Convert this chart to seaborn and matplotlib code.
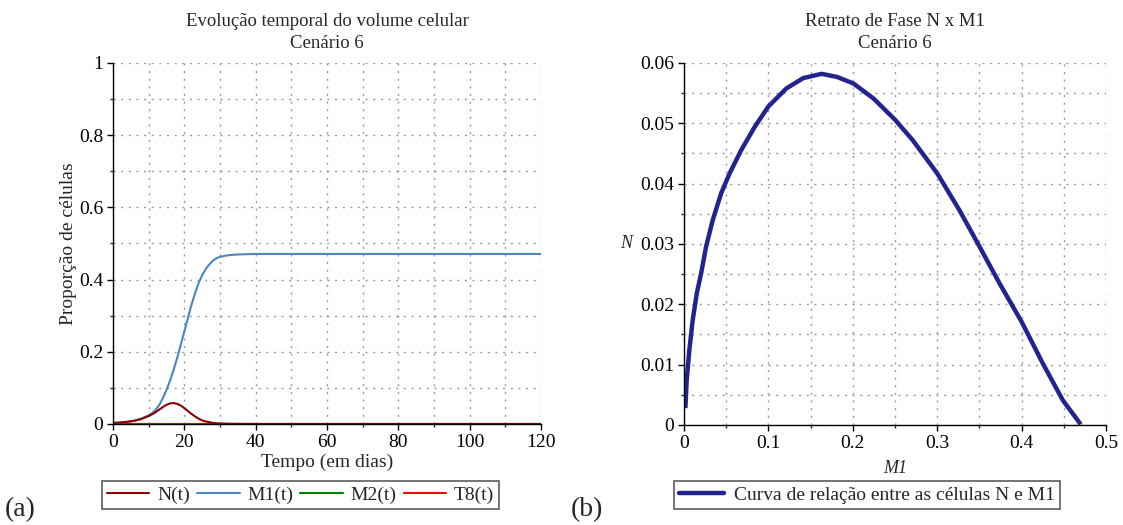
import numpy as np
import pandas as pd
import matplotlib
matplotlib.use("Agg")
import matplotlib.pyplot as plt
from matplotlib.ticker import MultipleLocator, FuncFormatter
from matplotlib.lines import Line2D
import seaborn as sns

# ---------------- data ----------------
t_days = [0, 2, 4, 6, 8, 10, 11, 12, 13, 14, 15, 16, 17, 18, 19, 20, 21, 22, 23,
          24, 25, 26, 27, 28, 29, 30, 32, 34, 36, 40, 50, 60, 70, 80, 90, 100, 110, 120]
N_t = [0.003, 0.004, 0.006, 0.009, 0.014, 0.022, 0.027, 0.033, 0.040, 0.047, 0.053,
       0.057, 0.058, 0.056, 0.051, 0.044, 0.036, 0.028, 0.021, 0.015, 0.010, 0.007,
       0.005, 0.003, 0.002, 0.0015, 0.0008, 0.0004, 0.0002, 0.0, 0.0, 0.0, 0.0, 0.0,
       0.0, 0.0, 0.0, 0.0]
M1_t = [0.003, 0.004, 0.006, 0.009, 0.015, 0.024, 0.030, 0.040, 0.053, 0.072, 0.094,
        0.120, 0.150, 0.183, 0.219, 0.256, 0.293, 0.330, 0.362, 0.390, 0.412, 0.429,
        0.442, 0.452, 0.459, 0.463, 0.467, 0.469, 0.470, 0.471, 0.471, 0.471, 0.471,
        0.471, 0.471, 0.471, 0.471, 0.471]
M2_t = [0.0] * len(t_days)
T8_t = [0.0] * len(t_days)

# phase portrait N x M1
phase_M1 = [0.0016, 0.0032, 0.0063, 0.0103, 0.0151, 0.0202, 0.0262, 0.0341, 0.0440,
            0.0540, 0.0679, 0.0837, 0.1000, 0.1214, 0.1413, 0.1630, 0.1810, 0.2008,
            0.2246, 0.2500, 0.2710, 0.3000, 0.3263, 0.3500, 0.3737, 0.4000, 0.4251,
            0.4488, 0.4700]
phase_N = [0.0028, 0.0075, 0.0124, 0.0174, 0.0218, 0.0251, 0.0296, 0.0340, 0.0384,
           0.0417, 0.0456, 0.0494, 0.0528, 0.0558, 0.0575, 0.0582, 0.0577, 0.0566,
           0.0541, 0.0506, 0.0472, 0.0417, 0.0356, 0.0296, 0.0235, 0.0171, 0.0102,
           0.0041, 0.0001]

series_names = ["N(t)", "M1(t)", "M2(t)", "T8(t)"]
series_colors = {"N(t)": "#8B0000", "M1(t)": "#4A86C1", "M2(t)": "#008000", "T8(t)": "#FF0000"}
phase_label = "Curva de relação entre as células N e M1"
phase_color = "#232390"

# ---------------- style ----------------
sns.set_theme(style="white")
plt.rcParams["font.family"] = ["Liberation Serif", "DejaVu Serif"]
plt.rcParams["axes.edgecolor"] = "black"
plt.rcParams["axes.linewidth"] = 1.0

fig = plt.figure(figsize=(11.23, 5.25), dpi=100)
axL = fig.add_axes([0.1006, 0.1924, 0.3811, 0.6876])
axR = fig.add_axes([0.6091, 0.1905, 0.3758, 0.6895])

df = pd.DataFrame({"t": t_days * 4,
                   "v": N_t + M1_t + M2_t + T8_t,
                   "serie": sum([[s] * len(t_days) for s in series_names], [])})

# draw order: M2, T8 below, then M1, then N on top
for s in ["M2(t)", "T8(t)", "M1(t)", "N(t)"]:
    sns.lineplot(data=df[df["serie"] == s], x="t", y="v", color=series_colors[s],
                 linewidth=1.5, estimator=None, ax=axL, legend=False)

dfp = pd.DataFrame({"M1": phase_M1, "N": phase_N})
sns.lineplot(data=dfp, x="M1", y="N", color=phase_color, linewidth=3.2,
             estimator=None, sort=False, ax=axR, legend=False)
for ln in axR.get_lines():
    ln.set_solid_joinstyle("round")
    ln.set_solid_capstyle("butt")


def fmt(v, pos):
    return "%g" % round(v, 6)


def style_axes(ax, xmaj, xmin, ymaj, ymin, xlim, ylim):
    ax.set_xlim(*xlim)
    ax.set_ylim(*ylim)
    ax.xaxis.set_major_locator(MultipleLocator(xmaj))
    ax.xaxis.set_minor_locator(MultipleLocator(xmin))
    ax.yaxis.set_major_locator(MultipleLocator(ymaj))
    ax.yaxis.set_minor_locator(MultipleLocator(ymin))
    ax.xaxis.set_major_formatter(FuncFormatter(fmt))
    ax.yaxis.set_major_formatter(FuncFormatter(fmt))
    ax.grid(True, which="both", color="#9a9a9a", linestyle=(0, (1.5, 4)), linewidth=1.0)
    ax.set_axisbelow(True)
    for sp in ["top", "right"]:
        ax.spines[sp].set_visible(False)
    ax.tick_params(which="major", direction="out", length=4, width=1, labelsize=14,
                   colors="black", bottom=True, left=True, pad=3)
    ax.tick_params(which="minor", direction="out", length=2, width=1, bottom=True, left=True)


style_axes(axL, 20, 10, 0.2, 0.1, (0, 120), (0, 1))
style_axes(axR, 0.1, 0.05, 0.01, 0.005, (0, 0.5), (0, 0.06))

axL.set_title("Evolução temporal do volume celular\nCenário 6", fontsize=13.5, pad=11,
              linespacing=1.4)
axR.set_title("Retrato de Fase N x M1\nCenário 6", fontsize=13.5, pad=11, linespacing=1.4)

axL.set_xlabel("Tempo (em dias)", fontsize=14, labelpad=2)
axL.set_ylabel("Proporção de células", fontsize=14, labelpad=1)
axR.set_xlabel("M1", fontsize=13, style="italic", labelpad=6)
axR.set_ylabel("N", fontsize=13, style="italic", rotation=0, labelpad=10, va="center")

# legends
handlesL = [Line2D([0], [0], color=series_colors[s], lw=1.5) for s in series_names]
legL = fig.legend(handlesL, series_names, loc="center", bbox_to_anchor=(0.2676, 0.057),
                  ncol=4, fontsize=14, frameon=True, fancybox=False, handlelength=2.2,
                  columnspacing=0.35, handletextpad=0.4, borderpad=0.25, borderaxespad=0)
legL.get_frame().set_edgecolor("#333333")
legL.get_frame().set_linewidth(1.2)

handlesR = [Line2D([0], [0], color=phase_color, lw=3.2)]
legR = fig.legend(handlesR, [phase_label], loc="center", bbox_to_anchor=(0.772, 0.057),
                  ncol=1, fontsize=14, frameon=True, fancybox=False, handlelength=2.3,
                  handletextpad=0.5, borderpad=0.25, borderaxespad=0)
legR.get_frame().set_edgecolor("#333333")
legR.get_frame().set_linewidth(1.2)

fig.text(0.004, 0.03, "(a)", fontsize=20, va="center", ha="left")
fig.text(0.508, 0.03, "(b)", fontsize=20, va="center", ha="left")

fig.savefig("out.png", dpi=100)
